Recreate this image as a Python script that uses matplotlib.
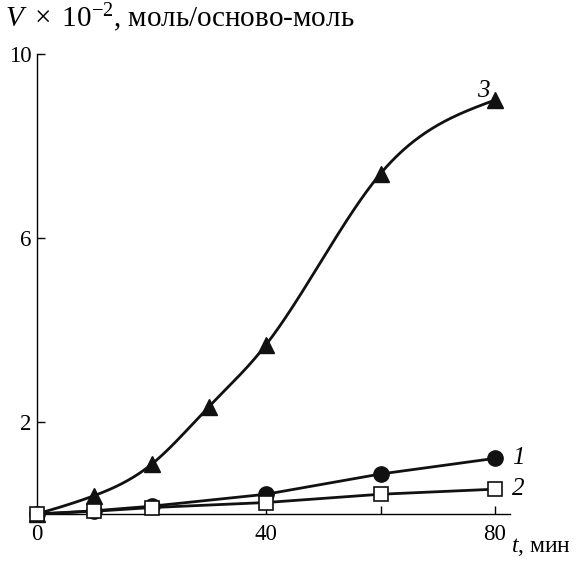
import numpy as np
import matplotlib
matplotlib.use("Agg")
import matplotlib.pyplot as plt

plt.rcParams['font.family'] = ['Liberation Serif', 'DejaVu Serif']
plt.rcParams['mathtext.fontset'] = 'custom'
plt.rcParams['mathtext.rm'] = 'Liberation Serif'
plt.rcParams['mathtext.it'] = 'Liberation Serif:italic'

# Data
t3 = [0, 10, 20, 30, 40, 60, 80]
v3 = [0, 0.40, 1.08, 2.33, 3.68, 7.40, 9.00]
t1 = [0, 10, 20, 40, 60, 80]
v1 = [0, 0.07, 0.17, 0.43, 0.87, 1.21]
t2 = [0, 10, 20, 40, 60, 80]
v2 = [0, 0.06, 0.14, 0.25, 0.43, 0.54]
x_ticks = [0, 20, 40, 60, 80]
x_ticklabels = ['0', '', '40', '', '80']
y_ticks = [2, 6, 10]
y_ticklabels = ['2', '6', '10']


def natural_spline(x, y, n=300):
    x = np.asarray(x, float); y = np.asarray(y, float)
    m = len(x); h = np.diff(x)
    A = np.zeros((m, m)); b = np.zeros(m)
    A[0, 0] = 1; A[-1, -1] = 1
    for i in range(1, m - 1):
        A[i, i - 1] = h[i - 1]; A[i, i] = 2 * (h[i - 1] + h[i]); A[i, i + 1] = h[i]
        b[i] = 3 * ((y[i + 1] - y[i]) / h[i] - (y[i] - y[i - 1]) / h[i - 1])
    c = np.linalg.solve(A, b)
    xs = np.linspace(x[0], x[-1], n); ys = np.empty_like(xs)
    for k, xv in enumerate(xs):
        i = min(np.searchsorted(x, xv, side='right') - 1, m - 2)
        dx = xv - x[i]
        bi = (y[i + 1] - y[i]) / h[i] - h[i] * (2 * c[i] + c[i + 1]) / 3
        di = (c[i + 1] - c[i]) / (3 * h[i])
        ys[k] = y[i] + bi * dx + c[i] * dx ** 2 + di * dx ** 3
    return xs, ys


fig = plt.figure(figsize=(5.81, 5.71), dpi=100)
ax = fig.add_axes([0.0637, 0.0998, 0.814, 0.8056])

xs, ys = natural_spline(t3, v3)
ax.plot(xs, ys, color='#111111', lw=2.0, clip_on=False, zorder=2)
ax.plot(t3, v3, ls='none', marker='^', ms=11.5, color='#111111', clip_on=False, zorder=3)

ax.plot(t1, v1, color='#111111', lw=2.0, marker='o', ms=11, clip_on=False, zorder=4)
ax.plot(t2, v2, color='#111111', lw=2.0, marker='s', ms=9.5, mfc='white', mec='#111111',
        mew=1.2, clip_on=False, zorder=5)

ax.set_xlim(0, 82.6)
ax.set_ylim(0, 10)
for s in ['top', 'right']:
    ax.spines[s].set_visible(False)
for s in ['left', 'bottom']:
    ax.spines[s].set_linewidth(1.0)
ax.set_xticks(x_ticks)
ax.set_xticklabels(x_ticklabels)
ax.set_yticks(y_ticks)
ax.set_yticklabels(y_ticklabels)
ax.tick_params(direction='in', length=6, width=1.0, labelsize=16.5)
ax.tick_params(axis='x', pad=7)
ax.tick_params(axis='y', pad=4)

ax.annotate('1', (t1[-1], v1[-1]), xytext=(17, 0), textcoords='offset pixels',
            fontsize=18, style='italic', va='center', ha='left')
ax.annotate('2', (t2[-1], v2[-1]), xytext=(17, 0), textcoords='offset pixels',
            fontsize=18, style='italic', va='center', ha='left')
ax.annotate('3', (t3[-1], v3[-1]), xytext=(-6, 9), textcoords='offset pixels',
            fontsize=18, style='italic', va='center', ha='right')

fig.text(0.009, 0.953, r'$V\ \times\ 10^{-2}$, моль/осново-моль', fontsize=21, ha='left', va='baseline')
fig.text(0.983, 0.033, r'$t$, мин', fontsize=17, ha='right', va='baseline')

fig.savefig('out.png', dpi=100)
